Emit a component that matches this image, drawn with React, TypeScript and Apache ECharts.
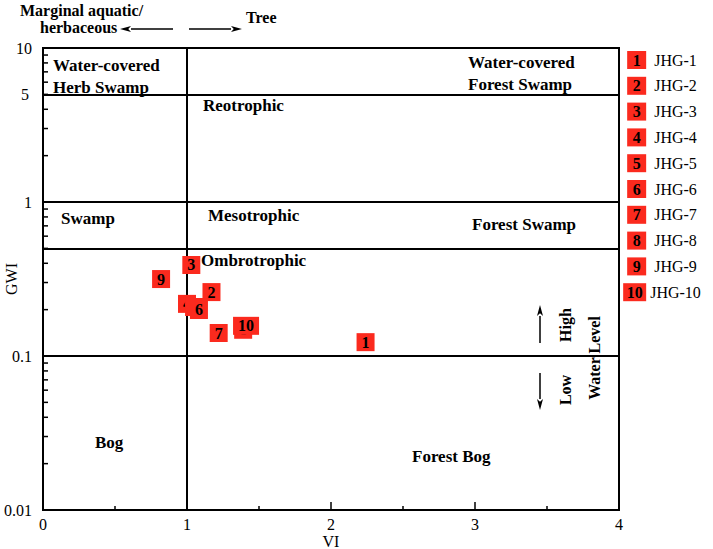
import React, { useEffect, useRef } from "react";
import * as echarts from "echarts";

const sampleNames = ["JHG-1", "JHG-2", "JHG-3", "JHG-4", "JHG-5", "JHG-6", "JHG-7", "JHG-8", "JHG-9", "JHG-10"];
const sampleLabels = ["1", "2", "3", "4", "5", "6", "7", "8", "9", "10"];
const viValues = [2.24, 1.17, 1.03, 1.0, 1.049, 1.083, 1.22, 1.39, 0.82, 1.41];
const gwiValues = [0.123, 0.26, 0.39, 0.218, 0.208, 0.199, 0.141, 0.148, 0.316, 0.157];
const gwiBoundaries = [5, 1, 0.5, 0.1];
const viBoundaries = [1];
const extraYLabelValue = 5;
const yMinorTickValues = [
  0.02, 0.03, 0.04, 0.05, 0.06, 0.07, 0.08, 0.09,
  0.2, 0.3, 0.4, 0.5, 0.6, 0.7, 0.8, 0.9,
  2, 3, 4, 5, 6, 7, 8, 9,
];

const SERIF = "'Liberation Serif', 'Times New Roman', serif";
const RED = "#fb2a1e";

function txt(text: string, x: number, y: number, opts: any = {}) {
  const align = opts.align || "left";
  return {
    type: "text",
    x,
    y,
    rotation: opts.rotation || 0,
    z: 20,
    style: {
      text,
      fill: "#000",
      font: `${opts.weight || "bold"} ${opts.size || 16}px ${SERIF}`,
      align,
      textAlign: align,
      verticalAlign: "middle",
      textVerticalAlign: "middle",
    },
  };
}

function arrow(x1: number, y1: number, x2: number, y2: number) {
  const dx = x2 - x1;
  const dy = y2 - y1;
  const len = Math.sqrt(dx * dx + dy * dy);
  const ux = dx / len;
  const uy = dy / len;
  const hl = 11;
  const hw = 3;
  const bx = x2 - ux * hl;
  const by = y2 - uy * hl;
  return [
    {
      type: "line",
      z: 20,
      shape: { x1, y1, x2: bx, y2: by },
      style: { stroke: "#000", lineWidth: 1.5 },
    },
    {
      type: "polygon",
      z: 20,
      shape: {
        points: [
          [x2, y2],
          [bx - uy * hw, by + ux * hw],
          [x2 - ux * hl * 0.75, y2 - uy * hl * 0.75],
          [bx + uy * hw, by - ux * hw],
        ],
      },
      style: { fill: "#000" },
    },
  ];
}

export default function App() {
  const ref = useRef<HTMLDivElement>(null);
  useEffect(() => {
    if (!ref.current) return;
    const chart = echarts.init(ref.current, null, { renderer: "svg" });

    const scatterSeries = sampleNames.map((name, i) => ({
      type: "scatter",
      name,
      z: 10 + i,
      symbol: "rect",
      symbolSize: sampleLabels[i].length > 1 ? [26, 18] : [18, 18],
      itemStyle: { color: RED, opacity: 1 },
      label: {
        show: true,
        position: "inside",
        formatter: sampleLabels[i],
        color: "#000",
        fontFamily: SERIF,
        fontWeight: "bold",
        fontSize: 16,
      },
      emphasis: { disabled: true },
      data: [[viValues[i], gwiValues[i]]],
    }));

    const lineSeries = {
      type: "scatter",
      name: "__lines",
      data: [],
      silent: true,
      markLine: {
        silent: true,
        symbol: "none",
        animation: false,
        lineStyle: { color: "#000", width: 2, type: "solid" },
        label: { show: false },
        data: [
          ...gwiBoundaries.map((v) =>
            v === extraYLabelValue
              ? {
                  yAxis: v,
                  label: {
                    show: true,
                    position: "start",
                    formatter: String(extraYLabelValue),
                    color: "#000",
                    fontFamily: SERIF,
                    fontSize: 16,
                    distance: 14,
                  },
                }
              : { yAxis: v }
          ),
          ...viBoundaries.map((v) => ({ xAxis: v })),
        ],
      },
    };

    const minorTickSeries = {
      type: "custom",
      name: "__yminor",
      silent: true,
      z: 5,
      encode: { x: 0, y: 1 },
      data: yMinorTickValues.map((v) => [0, v]),
      renderItem: (_params: any, api: any) => {
        const p = api.coord([api.value(0), api.value(1)]);
        return {
          type: "line",
          shape: { x1: p[0], y1: p[1], x2: p[0] + 5, y2: p[1] },
          style: { stroke: "#000", lineWidth: 1.5 },
        };
      },
    };

    const legendIndex: Record<string, number> = {};
    sampleNames.forEach((n, i) => (legendIndex[n] = i));

    const L = { size: 17 };
    const graphic: any[] = [
      txt("Marginal aquatic/", 20, 10),
      txt("herbaceous", 40, 27),
      ...arrow(173, 29, 120, 29),
      ...arrow(189, 29, 242, 29),
      txt("Tree", 246, 17),
      txt("Water-covered", 53, 65, L),
      txt("Herb Swamp", 53, 87, L),
      txt("Water-covered", 468, 62, L),
      txt("Forest Swamp", 468, 84, L),
      txt("Reotrophic", 203, 105, L),
      txt("Swamp", 61, 218, L),
      txt("Mesotrophic", 208, 215, L),
      txt("Forest Swamp", 472, 224, L),
      txt("Ombrotrophic", 201, 260, L),
      txt("Bog", 95, 442, L),
      txt("Forest Bog", 412, 456, L),
      ...arrow(540, 343, 540, 305),
      ...arrow(540, 373, 540, 410),
      txt("High", 565, 325, { align: "center", rotation: Math.PI / 2 }),
      txt("Low", 565, 390, { align: "center", rotation: Math.PI / 2 }),
      txt("Water Level", 594, 358, { align: "center", rotation: Math.PI / 2 }),
    ];

    chart.setOption({
      animation: false,
      backgroundColor: "#fff",
      textStyle: { fontFamily: SERIF },
      grid: {
        left: 43,
        right: 94,
        top: 48,
        bottom: 39,
        containLabel: false,
        outerBoundsMode: "none",
        show: true,
        borderColor: "#000",
        borderWidth: 2,
        backgroundColor: "transparent",
      },
      xAxis: {
        type: "value",
        min: 0,
        max: 4,
        interval: 1,
        name: "VI",
        nameLocation: "middle",
        nameGap: 23,
        nameMoveOverlap: false,
        nameTextStyle: { color: "#000", fontFamily: SERIF, fontSize: 16 },
        axisLine: { show: true, lineStyle: { color: "#000", width: 2 } },
        axisTick: { show: true, inside: true, length: 8, lineStyle: { color: "#000", width: 1.5 } },
        minorTick: { show: true, splitNumber: 2, length: 4, lineStyle: { color: "#000", width: 1.5 } },
        axisLabel: { color: "#000", fontFamily: SERIF, fontSize: 16, margin: 6 },
        splitLine: { show: false },
      },
      yAxis: {
        type: "log",
        logBase: 10,
        min: 0.01,
        max: 10,
        name: "GWI",
        nameLocation: "middle",
        nameGap: 24,
        nameMoveOverlap: false,
        nameTextStyle: { color: "#000", fontFamily: SERIF, fontSize: 16 },
        axisLine: { show: true, lineStyle: { color: "#000", width: 2 } },
        axisTick: { show: false },
        minorTick: { show: false },
        axisLabel: { color: "#000", fontFamily: SERIF, fontSize: 16, margin: 11 },
        splitLine: { show: false },
        minorSplitLine: { show: false },
      },
      legend: {
        show: true,
        orient: "vertical",
        left: 607,
        top: 46,
        itemWidth: 0,
        itemHeight: 0,
        itemGap: 7.8,
        selectedMode: false,
        data: sampleNames,
        formatter: (name: string) => {
          const i = legendIndex[name];
          const lab = sampleLabels[i];
          return lab.length > 1 ? `{bb|${lab}}{tt|${name}}` : `{b|${lab}}{t|${name}}`;
        },
        textStyle: {
          color: "#000",
          fontFamily: SERIF,
          fontSize: 16,
          width: 90,
          overflow: "none",
          rich: {
            b: {
              backgroundColor: RED,
              width: 19,
              height: 18,
              lineHeight: 18,
              align: "center",
              fontWeight: "bold",
              fontSize: 16,
              color: "#000",
              fontFamily: SERIF,
            },
            bb: {
              backgroundColor: RED,
              width: 23,
              height: 18,
              lineHeight: 18,
              align: "center",
              fontWeight: "bold",
              fontSize: 16,
              color: "#000",
              fontFamily: SERIF,
            },
            t: { padding: [0, 0, 0, 8], fontSize: 16, color: "#000", fontFamily: SERIF },
            tt: { padding: [0, 0, 0, 4], fontSize: 16, color: "#000", fontFamily: SERIF },
          },
        },
      },
      graphic,
      series: [lineSeries, minorTickSeries, ...scatterSeries],
    });

    return () => chart.dispose();
  }, []);

  return (
    <div
      ref={ref}
      style={{ position: "absolute", left: 0, top: 0, width: 713, height: 549 }}
    />
  );
}
